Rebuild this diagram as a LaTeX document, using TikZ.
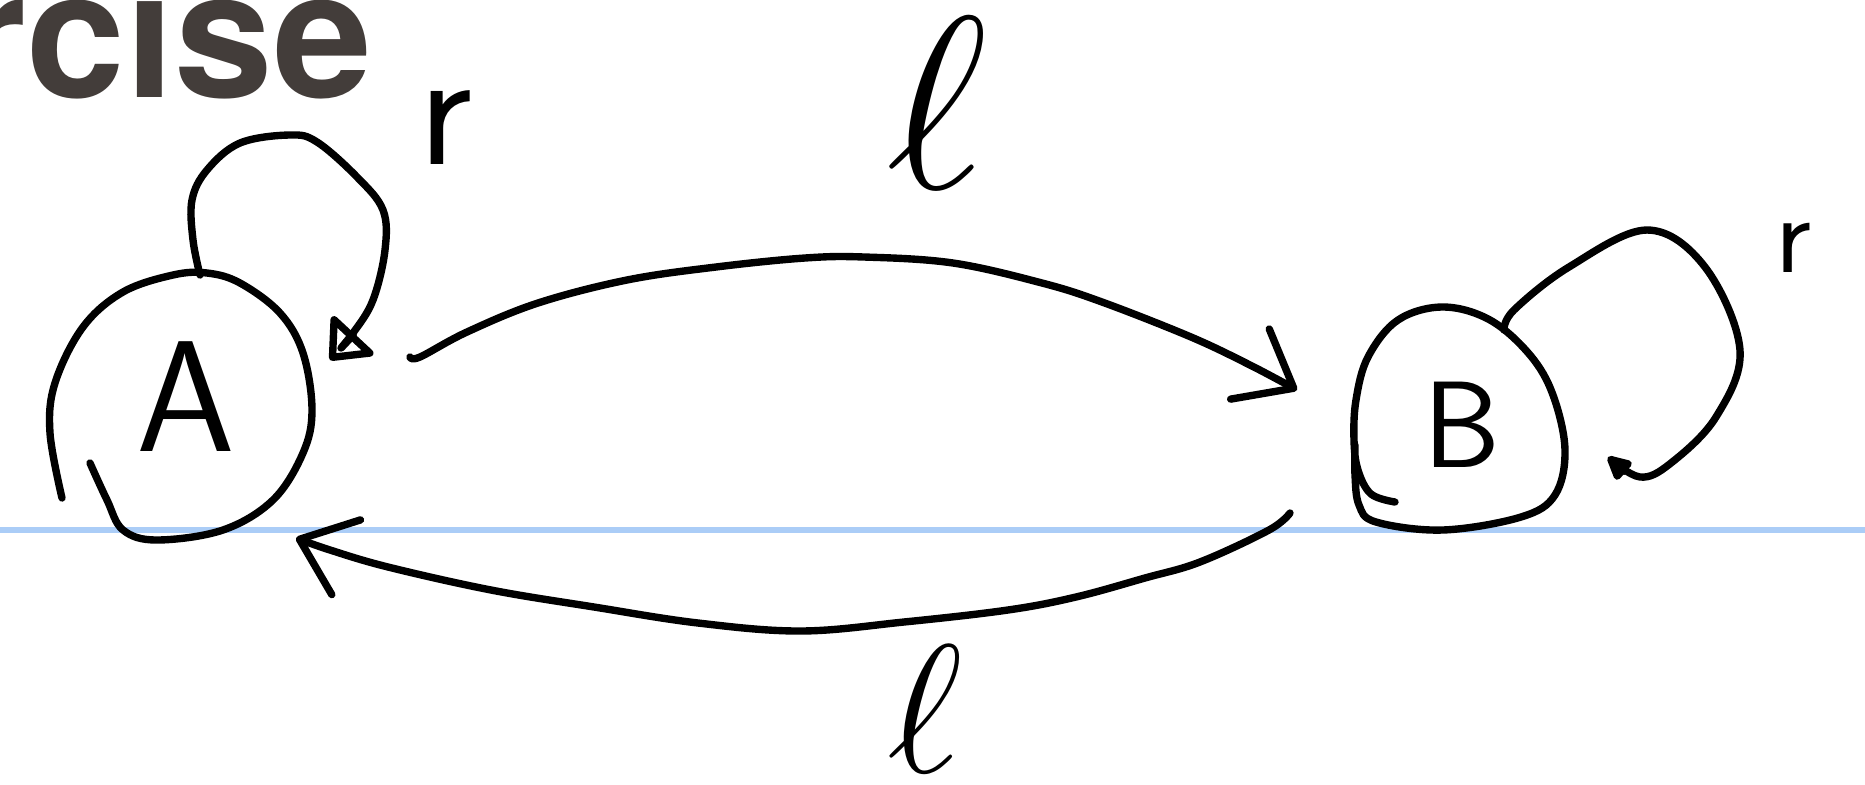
\RequirePackage{fix-cm}
\documentclass[tikz,border=0pt]{standalone}
\usepackage{fontspec}
\newfontfamily\headfont{TeX Gyre Heros}
\usetikzlibrary{arrows.meta}
\definecolor{headgray}{HTML}{433D3A}
\definecolor{ruleblue}{HTML}{ABCDF7}

\begin{document}
\begin{tikzpicture}[x=0.01cm, y=-0.01cm,
    pen/.style={line width=2.1pt, line cap=round, line join=round},
    state/.style={inner sep=0pt, font=\sffamily},
    lbl/.style={inner sep=8pt},
    barb/.style={-{Straight Barb[length=5mm, width=8mm, round]}},
    tri/.style={-{Triangle[open, length=3.8mm, width=6.3mm, round]}}
  ]
    \useasboundingbox (0,0) rectangle (1865,784);
    \clip (0,0) rectangle (1865,784);

    \node[anchor=base west, inner sep=0pt, text=headgray,
          font=\headfont\bfseries\fontsize{50.5}{50.5}\selectfont] (title)
      at (-43,97) {rcise};
    \draw[ruleblue, line width=1.5pt] (0,530) -- (1865,530);

    \node[state, font=\sffamily\fontsize{45}{45}\selectfont] (A) at (186,397) {A};
    \node[state, font=\sffamily\fontsize{35}{35}\selectfont] (B) at (1462,425) {B};
    \draw[pen] plot[smooth, tension=0.6] coordinates {(62,498) (50,433) (55,383)
      (83,327) (123,292) (173,275) (207,273) (240,283) (280,313) (303,353)
      (312,410) (303,453) (273,500) (223,530) (157,540) (123,530) (107,500) (90,463)};
    \draw[pen] plot[smooth, tension=0.6] coordinates {(1395,502) (1371,494)
      (1358,470) (1354,440) (1356,400) (1368,357) (1398,320) (1443,307)
      (1490,320) (1530,355) (1553,395) (1565,450) (1555,495) (1521,517)
      (1443,530) (1376,522) (1359,505) (1355,475) (1355,445)};

    \coordinate (A-top) at (200,275);
    \coordinate (A-back) at (330,360);
    \coordinate (A-out) at (410,357);
    \coordinate (A-in) at (296,538);
    \coordinate (B-in) at (1297,390);
    \coordinate (B-out) at (1290,513);
    \coordinate (B-top) at (1504,330);
    \coordinate (B-back) at (1608,457);

    \draw[pen, tri] plot[smooth, tension=0.6] coordinates {(A-top) (193,240)
      (192,200) (207,170) (240,143) (290,135) (317,142) (357,177) (383,210)
      (385,250) (373,300) (353,333) (A-back)};
    \draw[pen, -{Triangle[open, length=2.8mm, width=2.6mm, round]}]
      plot[smooth, tension=0.6] coordinates {(B-top) (1514,310) (1569,267)
      (1647,230) (1705,267) (1740,350) (1716,417) (1671,463) (1640,477) (B-back)};
    \draw[pen, barb] plot[smooth, tension=0.6] coordinates {(A-out) (420,357)
      (467,332) (538,303) (627,280) (716,267) (805,258) (864,257) (953,263)
      (1042,283) (1102,302) (1191,337) (1250,365) (B-in)};
    \draw[pen, barb] plot[smooth, tension=0.6] coordinates {(B-out) (1269,530)
      (1200,562) (1145,578) (1076,597) (1008,610) (904,622) (801,631)
      (698,623) (594,607) (491,590) (388,567) (330,550) (A-in)};

    \node[lbl, font=\sffamily\fontsize{48}{48}\selectfont] (rA) at (446,128) {r};
    \node[lbl, font=\sffamily\fontsize{32}{32}\selectfont] (rB) at (1793,248) {r};
    \node[lbl, font=\fontsize{70}{70}\selectfont] (lAB) at (937,103) {$\ell$};
    \node[lbl, font=\fontsize{52}{52}\selectfont] (lBA) at (925,709) {$\ell$};
  \end{tikzpicture}
\end{document}
